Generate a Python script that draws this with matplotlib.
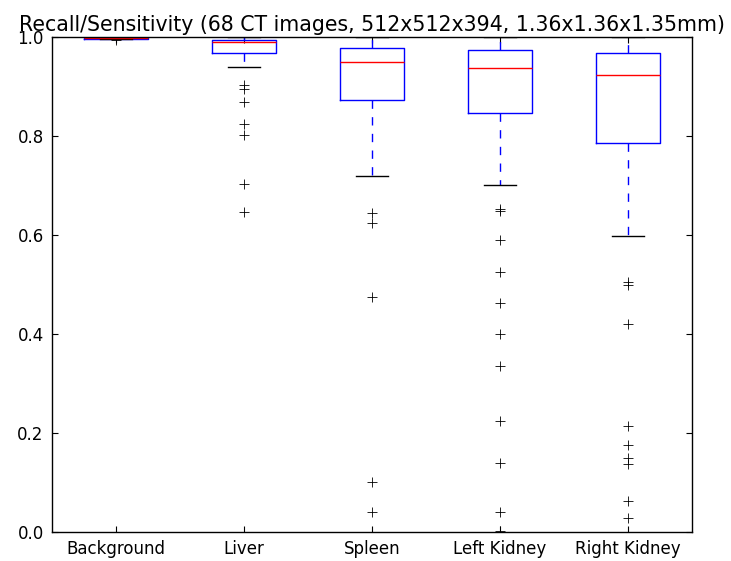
import matplotlib
matplotlib.use('Agg')
import matplotlib.pyplot as plt

labels = ['Background', 'Liver', 'Spleen', 'Left Kidney', 'Right Kidney']

# box statistics
q1 = [0.997, 0.967, 0.872, 0.847, 0.786]
med = [0.998, 0.989, 0.949, 0.937, 0.924]
q3 = [0.999, 0.995, 0.978, 0.974, 0.968]
whislo = [0.997, 0.939, 0.720, 0.701, 0.597]
whishi = [1.0, 1.0, 1.0, 1.0, 1.0]

fliers = [
    [0.993],
    [0.904, 0.896, 0.868, 0.824, 0.802, 0.703, 0.646],
    [0.644, 0.625, 0.475, 0.100, 0.040],
    [0.652, 0.648, 0.589, 0.526, 0.463, 0.400, 0.335, 0.225, 0.139, 0.041, 0.003],
    [0.506, 0.499, 0.421, 0.214, 0.176, 0.149, 0.137, 0.063, 0.028],
]

stats = []
for i in range(len(labels)):
    stats.append({'label': labels[i], 'q1': q1[i], 'med': med[i], 'q3': q3[i],
                  'whislo': whislo[i], 'whishi': whishi[i], 'fliers': fliers[i]})

fig = plt.figure(figsize=(7.31, 5.61), dpi=100)
ax = fig.add_axes([0.0711, 0.0517, 0.8755, 0.8823])

ax.bxp(stats, widths=0.5,
       boxprops=dict(color='b', linewidth=1),
       whiskerprops=dict(color='b', linestyle=(0, (6, 6)), linewidth=1),
       capprops=dict(color='k', linewidth=1),
       medianprops=dict(color='r', linewidth=1),
       flierprops=dict(marker='+', markeredgecolor='k', markersize=7,
                       markeredgewidth=0.6, linestyle='none'))

ax.set_xlim(0.5, 5.5)
ax.set_ylim(0, 1.0)
ax.set_yticks([0.0, 0.2, 0.4, 0.6, 0.8, 1.0])
ax.set_yticklabels(['0.0', '0.2', '0.4', '0.6', '0.8', '1.0'])
ax.tick_params(direction='in', length=4, top=True, right=True, labelsize=12, pad=6)
for s in ax.spines.values():
    s.set_linewidth(1)

ax.set_title('Recall/Sensitivity (68 CT images, 512x512x394, 1.36x1.36x1.35mm)',
             fontsize=14.8, pad=4)

fig.savefig('out.png', dpi=100, facecolor='white')
